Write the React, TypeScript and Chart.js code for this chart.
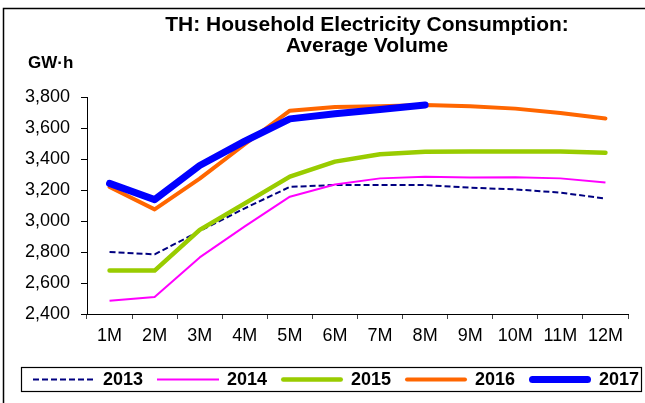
import React, { useEffect, useRef } from "react";
import { Chart, registerables } from "chart.js";

Chart.register(...registerables);

const months = ["1M", "2M", "3M", "4M", "5M", "6M", "7M", "8M", "9M", "10M", "11M", "12M"];
const yearLabels = ["2013", "2014", "2015", "2016", "2017"];
const y2013 = [2800, 2785, 2935, 3082, 3220, 3232, 3232, 3232, 3215, 3204, 3183, 3145];
const y2014 = [2485, 2510, 2765, 2965, 3157, 3235, 3275, 3285, 3281, 3283, 3275, 3249];
const y2015 = [2680, 2680, 2943, 3114, 3286, 3383, 3431, 3446, 3448, 3448, 3448, 3440];
const y2016 = [3219, 3075, 3273, 3495, 3712, 3736, 3740, 3749, 3740, 3725, 3697, 3661];
const y2017 = [3243, 3138, 3358, 3515, 3659, 3692, 3719, 3749];
const yTicks = [2400, 2600, 2800, 3000, 3200, 3400, 3600, 3800];
const titleLines = ["TH: Household Electricity Consumption:", "Average Volume"];
const unitLabel = "GW\u00B7h";

const FONT = "'Liberation Sans', Arial, Helvetica, sans-serif";

const decorPlugin = {
  id: "decor",
  afterDraw(chart: any) {
    const ctx = chart.ctx as CanvasRenderingContext2D;
    ctx.save();
    // outer frame
    ctx.strokeStyle = "#000";
    ctx.lineWidth = 1.5;
    ctx.beginPath();
    ctx.moveTo(3.5, 403);
    ctx.lineTo(3.5, 8.5);
    ctx.lineTo(645, 8.5);
    ctx.stroke();
    // title
    ctx.fillStyle = "#000";
    ctx.textAlign = "center";
    ctx.textBaseline = "alphabetic";
    ctx.font = `bold 21px ${FONT}`;
    ctx.fillText(titleLines[0], 367, 31);
    ctx.fillText(titleLines[1], 367, 52);
    // unit
    ctx.textAlign = "left";
    ctx.font = `bold 17px ${FONT}`;
    ctx.fillText(unitLabel, 28, 68);
    // legend frame + entries (styled from the datasets)
    ctx.lineWidth = 1.2;
    ctx.strokeStyle = "#000";
    ctx.strokeRect(21.5, 367.5, 620, 24);
    const cy = 379.5;
    chart.data.datasets.forEach((ds: any, i: number) => {
      const x0 = 33 + i * 124;
      ctx.save();
      ctx.strokeStyle = ds.borderColor;
      ctx.lineWidth = ds.borderWidth;
      ctx.setLineDash(ds.borderDash || []);
      ctx.lineCap = ds.borderCapStyle || "butt";
      const inset = ctx.lineCap === "round" ? ds.borderWidth / 2 : 0;
      ctx.beginPath();
      ctx.moveTo(x0 + inset, cy);
      ctx.lineTo(x0 + 62 - inset, cy);
      ctx.stroke();
      ctx.restore();
      ctx.fillStyle = "#000";
      ctx.font = `bold 18px ${FONT}`;
      ctx.textAlign = "left";
      ctx.textBaseline = "middle";
      ctx.fillText(ds.label, x0 + 70, cy + 0.5);
    });
    ctx.restore();
  },
};

export default function App() {
  const ref = useRef<HTMLCanvasElement | null>(null);
  useEffect(() => {
    if (!ref.current) return;
    const series = [y2013, y2014, y2015, y2016, y2017];
    const colors = ["#000080", "#FF00FF", "#99CC00", "#FF6600", "#0000FF"];
    const widths = [2, 2, 4.5, 4, 7];
    const chart = new Chart(ref.current, {
      type: "line",
      data: {
        labels: months,
        datasets: series.map((d, i) => ({
          label: yearLabels[i],
          data: d,
          borderColor: colors[i],
          backgroundColor: colors[i],
          borderWidth: widths[i],
          borderDash: i === 0 ? [6, 3] : [],
          borderCapStyle: i >= 2 ? "round" : "butt",
          borderJoinStyle: "round",
          pointRadius: 0,
          pointHoverRadius: 0,
          tension: 0,
          fill: false,
          order: 5 - i,
        })) as any,
      },
      plugins: [decorPlugin],
      options: {
        animation: false,
        responsive: false,
        devicePixelRatio: 1,
        layout: { padding: { left: 21, right: 17, top: 97, bottom: 45 } },
        font: { family: FONT },
        plugins: {
          title: { display: false },
          tooltip: { enabled: false },
          legend: { display: false },
        },
        scales: {
          x: {
            offset: true,
            grid: { display: true, offset: true, drawOnChartArea: false, drawTicks: true, tickLength: 5, color: "#444" },
            border: { display: true, color: "#000", width: 1 },
            ticks: { color: "#000", padding: 6, maxRotation: 0, autoSkip: false, font: { family: FONT, size: 18 } },
            afterFit: (s: any) => { s.height = 44; },
          },
          y: {
            min: 2400,
            max: 3800,
            afterBuildTicks: (s: any) => { s.ticks = yTicks.map((v) => ({ value: v })); },
            grid: { display: true, drawOnChartArea: false, drawTicks: true, tickLength: 6, color: "#000" },
            border: { display: true, color: "#000", width: 1 },
            ticks: {
              color: "#000",
              padding: 11,
              font: { family: FONT, size: 18 },
              callback: (v: any) => Number(v).toLocaleString("en-US"),
            },
            afterFit: (s: any) => { s.width = 66; },
          },
        },
      } as any,
    });
    return () => chart.destroy();
  }, []);
  return (
    <div style={{ position: "fixed", left: 0, top: 0, width: 645, height: 403, background: "#fff" }}>
      <canvas ref={ref} width={645} height={403} style={{ width: 645, height: 403 }} />
    </div>
  );
}
